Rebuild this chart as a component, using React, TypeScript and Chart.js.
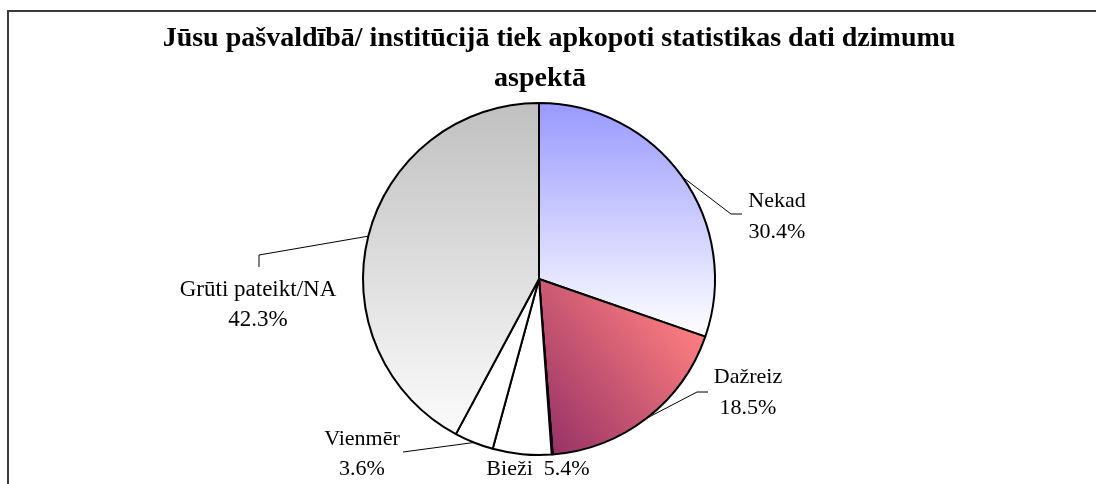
import React, { useEffect, useRef } from "react";
import { Chart, registerables } from "chart.js";
Chart.register(...registerables);

const categories = ["Nekad", "Dažreiz", "", "Bieži", "Vienmēr", "Grūti pateikt/NA"];
const values = [30.4, 18.5, 0.1, 5.4, 3.6, 42.3];
const percentLabels = ["30.4%", "18.5%", "", "5.4%", "3.6%", "42.3%"];
const titleLines = [
  "Jūsu pašvaldībā/ institūcijā tiek apkopoti statistikas dati dzimumu",
  "aspektā",
];

// label layout, offsets relative to pie centre
type Lay = { pts: [number, number][]; tx: number; by: number[]; oneLine?: boolean } | null;
const labelLayout: Lay[] = [
  { pts: [[192, -65], [203, -65]], tx: 238, by: [-72, -41] },
  { pts: [[158, 113], [169, 113]], tx: 209, by: [104, 135] },
  null,
  { pts: [], tx: -1, by: [196], oneLine: true },
  { pts: [[-136, 173]], tx: -177, by: [166, 196] },
  { pts: [[-280, -24], [-280, -12]], tx: -281, by: [17, 47] },
];

const SERIF = "'Liberation Serif', 'Times New Roman', serif";

function geom(chart: any) {
  const a = chart.chartArea;
  const cx = (a.left + a.right) / 2;
  const cy = (a.top + a.bottom) / 2;
  const r = Math.min(a.right - a.left, a.bottom - a.top) / 2 - 1;
  return { cx, cy, r };
}

function fillFor(ctx: any) {
  const chart = ctx.chart;
  const i = ctx.dataIndex;
  const plain = ["#9999ff", "#e07078", "#ffffcc", "#ffffff", "#ffffff", "#d0d0d0"];
  if (!chart.chartArea) return plain[i];
  const { cx, cy, r } = geom(chart);
  const c = chart.ctx as CanvasRenderingContext2D;
  if (i === 0) {
    const g = c.createLinearGradient(cx, cy - r, cx, cy + 0.33 * r);
    g.addColorStop(0, "#9999ff");
    g.addColorStop(1, "#ffffff");
    return g;
  }
  if (i === 1) {
    const g = c.createLinearGradient(cx + 0.95 * r, cy + 0.3 * r, cx + 0.1 * r, cy + r);
    g.addColorStop(0, "#ff8080");
    g.addColorStop(1, "#993366");
    return g;
  }
  if (i === 5) {
    const g = c.createLinearGradient(cx, cy - r, cx, cy + r);
    g.addColorStop(0, "#c0c0c0");
    g.addColorStop(1, "#ffffff");
    return g;
  }
  return plain[i];
}

const framePlugin = {
  id: "frame",
  beforeDraw(chart: any) {
    const c = chart.ctx as CanvasRenderingContext2D;
    c.save();
    c.fillStyle = "#ffffff";
    c.fillRect(0, 0, chart.width, chart.height);
    c.strokeStyle = "#3a3a3a";
    c.lineWidth = 2;
    c.beginPath();
    c.moveTo(8, chart.height + 2);
    c.lineTo(8, 11);
    c.lineTo(chart.width + 2, 11);
    c.stroke();
    c.restore();
  },
  afterDraw(chart: any) {
    const c = chart.ctx as CanvasRenderingContext2D;
    const { cx, cy } = geom(chart);
    c.save();
    // title
    c.fillStyle = "#000000";
    c.font = `bold 28px ${SERIF}`;
    c.textAlign = "center";
    c.textBaseline = "alphabetic";
    c.fillText(titleLines[0], cx + 20, 46);
    c.fillText(titleLines[1], cx + 1, 86);
    // labels with leader lines
    const meta = chart.getDatasetMeta(0);
    c.strokeStyle = "#000000";
    c.lineWidth = 1;
    labelLayout.forEach((lay, i) => {
      if (!lay) return;
      const arc = meta.data[i] as any;
      const p = arc.getProps(["startAngle", "endAngle", "outerRadius", "x", "y"], true);
      const mid = (p.startAngle + p.endAngle) / 2;
      if (lay.pts.length) {
        c.beginPath();
        c.moveTo(p.x + Math.cos(mid) * p.outerRadius, p.y + Math.sin(mid) * p.outerRadius);
        lay.pts.forEach(([dx, dy]) => c.lineTo(cx + dx, cy + dy));
        c.stroke();
      }
      c.font = `${i === 5 ? 23 : 22}px ${SERIF}`;
      if (lay.oneLine) {
        c.fillText(`${categories[i]}  ${percentLabels[i]}`, cx + lay.tx, cy + lay.by[0]);
      } else {
        c.fillText(categories[i], cx + lay.tx, cy + lay.by[0]);
        c.fillText(percentLabels[i], cx + lay.tx, cy + lay.by[1]);
      }
    });
    c.restore();
  },
};

export default function App() {
  const ref = useRef<HTMLCanvasElement>(null);
  useEffect(() => {
    if (!ref.current) return;
    const chart = new Chart(ref.current, {
      type: "pie",
      data: {
        labels: categories,
        datasets: [
          {
            data: values,
            backgroundColor: fillFor as any,
            borderColor: "#000000",
            borderWidth: 2,
            hoverOffset: 0,
          },
        ],
      },
      options: {
        animation: false,
        responsive: false,
        events: [],
        layout: { padding: { left: 300, right: 318, top: 102, bottom: 28 } },
        plugins: {
          legend: { display: false },
          tooltip: { enabled: false },
          title: { display: false },
        },
      },
      plugins: [framePlugin],
    });
    return () => chart.destroy();
  }, []);
  return (
    <div style={{ position: "fixed", left: 0, top: 0, width: 1096, height: 484, background: "#fff" }}>
      <canvas ref={ref} width={1096} height={484} style={{ display: "block", width: 1096, height: 484 }} />
    </div>
  );
}
